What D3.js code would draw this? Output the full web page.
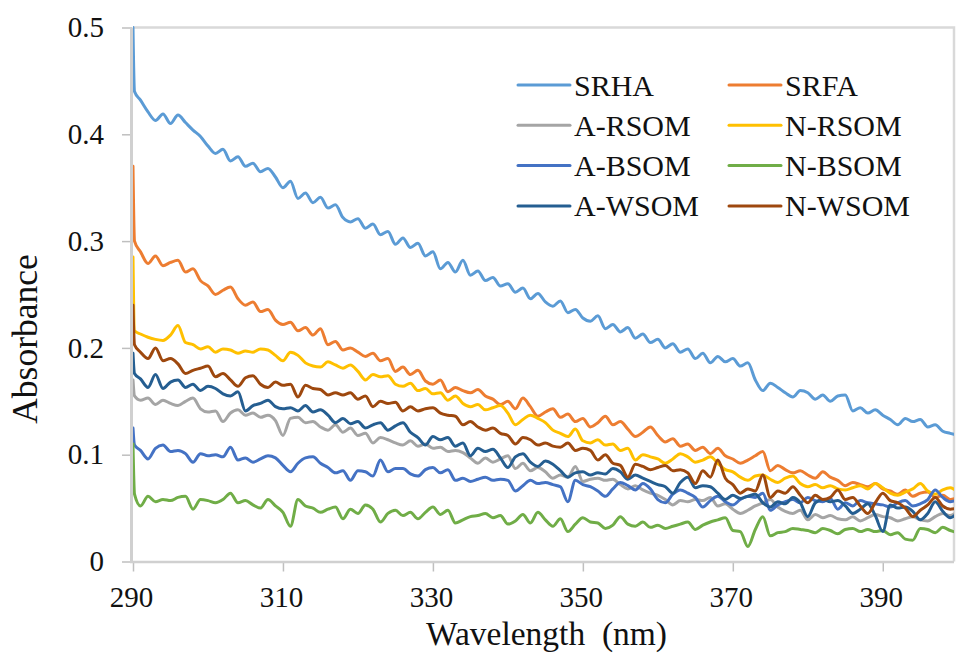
<!DOCTYPE html>
<html>
<head>
<meta charset="utf-8">
<script src="https://cdn.jsdelivr.net/npm/d3@7"></script>
</head>
<body style="margin:0">
<svg id="chart" width="958" height="667"></svg>
<script>
// ---- data (absorbance) ----
const wavelengths = [290, 290.2].concat(d3.range(291, 401)); // nm sampling grid
const seriesNames = ["SRHA", "SRFA", "A-RSOM", "N-RSOM", "A-BSOM", "N-BSOM", "A-WSOM", "N-WSOM"];
const seriesColors = ["#5B9BD5", "#ED7D31", "#A5A5A5", "#FFC000", "#4472C4", "#70AD47", "#255E91", "#9E480E"];
const xTicks = [290, 310, 330, 350, 370, 390];
const yTicks = [0, 0.1, 0.2, 0.3, 0.4, 0.5];

const SRHA = [0.500, 0.440,
  0.432, 0.421, 0.413, 0.419, 0.410, 0.418, 0.411, 0.404, 0.398, 0.389,
  0.382, 0.386, 0.375, 0.379, 0.370, 0.373, 0.365, 0.368, 0.360, 0.350,
  0.356, 0.340, 0.345, 0.336, 0.341, 0.331, 0.334, 0.322, 0.318, 0.321,
  0.312, 0.316, 0.306, 0.309, 0.297, 0.303, 0.294, 0.298, 0.286, 0.290,
  0.274, 0.280, 0.271, 0.282, 0.268, 0.272, 0.263, 0.266, 0.258, 0.260,
  0.252, 0.256, 0.246, 0.251, 0.243, 0.239, 0.244, 0.233, 0.236, 0.228,
  0.225, 0.230, 0.218, 0.222, 0.215, 0.219, 0.209, 0.213, 0.205, 0.208,
  0.200, 0.204, 0.196, 0.199, 0.190, 0.195, 0.186, 0.192, 0.187, 0.190,
  0.183, 0.186, 0.170, 0.160, 0.167, 0.163, 0.158, 0.154, 0.160, 0.158,
  0.152, 0.156, 0.150, 0.155, 0.156, 0.141, 0.144, 0.139, 0.142, 0.137,
  0.133, 0.128, 0.134, 0.131, 0.133, 0.126, 0.128, 0.122, 0.120, 0.118];

const SRFA = [0.370, 0.300,
  0.290, 0.279, 0.286, 0.277, 0.280, 0.282, 0.271, 0.274, 0.263, 0.258,
  0.250, 0.254, 0.257, 0.246, 0.240, 0.243, 0.234, 0.236, 0.226, 0.222,
  0.224, 0.216, 0.219, 0.212, 0.218, 0.203, 0.206, 0.198, 0.200, 0.196,
  0.192, 0.195, 0.188, 0.190, 0.178, 0.182, 0.175, 0.179, 0.169, 0.166,
  0.170, 0.159, 0.163, 0.160, 0.158, 0.161, 0.155, 0.152, 0.147, 0.150,
  0.143, 0.153, 0.145, 0.136, 0.140, 0.143, 0.135, 0.138, 0.131, 0.134,
  0.126, 0.130, 0.136, 0.128, 0.131, 0.124, 0.117, 0.121, 0.126, 0.118,
  0.112, 0.115, 0.108, 0.110, 0.104, 0.107, 0.101, 0.106, 0.099, 0.096,
  0.092, 0.095, 0.099, 0.103, 0.085, 0.090, 0.086, 0.083, 0.085, 0.081,
  0.078, 0.084, 0.079, 0.076, 0.071, 0.074, 0.072, 0.070, 0.073, 0.068,
  0.066, 0.063, 0.067, 0.061, 0.064, 0.065, 0.060, 0.062, 0.058, 0.060];

const A_RSOM = [0.170, 0.155,
  0.151, 0.153, 0.147, 0.151, 0.148, 0.146, 0.150, 0.153, 0.143, 0.140,
  0.141, 0.131, 0.139, 0.142, 0.137, 0.139, 0.135, 0.137, 0.132, 0.118,
  0.134, 0.135, 0.130, 0.131, 0.126, 0.123, 0.128, 0.121, 0.125, 0.118,
  0.120, 0.111, 0.116, 0.114, 0.111, 0.109, 0.113, 0.108, 0.110, 0.106,
  0.107, 0.103, 0.104, 0.102, 0.097, 0.092, 0.097, 0.093, 0.096, 0.099,
  0.087, 0.092, 0.085, 0.088, 0.084, 0.078, 0.081, 0.079, 0.089, 0.075,
  0.077, 0.078, 0.076, 0.077, 0.072, 0.068, 0.071, 0.067, 0.064, 0.062,
  0.058, 0.053, 0.057, 0.056, 0.058, 0.057, 0.060, 0.052, 0.054, 0.049,
  0.045, 0.048, 0.052, 0.055, 0.058, 0.051, 0.047, 0.045, 0.048, 0.039,
  0.044, 0.041, 0.043, 0.040, 0.039, 0.042, 0.038, 0.041, 0.044, 0.042,
  0.041, 0.038, 0.040, 0.042, 0.039, 0.038, 0.042, 0.045, 0.043, 0.047];

const N_RSOM = [0.285, 0.216,
  0.213, 0.210, 0.208, 0.207, 0.212, 0.221, 0.205, 0.203, 0.199, 0.201,
  0.196, 0.199, 0.198, 0.195, 0.197, 0.196, 0.199, 0.198, 0.193, 0.188,
  0.196, 0.193, 0.186, 0.183, 0.182, 0.187, 0.184, 0.181, 0.184, 0.178,
  0.170, 0.175, 0.173, 0.174, 0.166, 0.164, 0.167, 0.160, 0.162, 0.157,
  0.158, 0.151, 0.155, 0.148, 0.145, 0.147, 0.142, 0.144, 0.146, 0.139,
  0.128, 0.133, 0.137, 0.134, 0.130, 0.123, 0.120, 0.117, 0.124, 0.113,
  0.111, 0.114, 0.109, 0.110, 0.104, 0.106, 0.095, 0.100, 0.098, 0.096,
  0.092, 0.096, 0.101, 0.098, 0.093, 0.095, 0.098, 0.092, 0.086, 0.084,
  0.079, 0.076, 0.080, 0.081, 0.077, 0.074, 0.078, 0.080, 0.073, 0.070,
  0.072, 0.069, 0.071, 0.068, 0.067, 0.069, 0.071, 0.068, 0.073, 0.069,
  0.064, 0.062, 0.065, 0.068, 0.073, 0.066, 0.063, 0.067, 0.069, 0.065];

const A_BSOM = [0.125, 0.109,
  0.104, 0.096, 0.106, 0.109, 0.103, 0.104, 0.101, 0.093, 0.101, 0.099,
  0.100, 0.098, 0.107, 0.095, 0.097, 0.093, 0.096, 0.099, 0.097, 0.090,
  0.084, 0.092, 0.097, 0.098, 0.092, 0.088, 0.083, 0.085, 0.076, 0.085,
  0.084, 0.080, 0.095, 0.084, 0.087, 0.087, 0.082, 0.080, 0.086, 0.088,
  0.083, 0.086, 0.076, 0.078, 0.075, 0.077, 0.079, 0.076, 0.077, 0.076,
  0.066, 0.071, 0.076, 0.073, 0.074, 0.072, 0.070, 0.056, 0.076, 0.072,
  0.070, 0.066, 0.061, 0.068, 0.074, 0.071, 0.067, 0.073, 0.068, 0.058,
  0.055, 0.063, 0.067, 0.064, 0.060, 0.051, 0.057, 0.061, 0.056, 0.053,
  0.058, 0.061, 0.060, 0.064, 0.048, 0.053, 0.056, 0.058, 0.055, 0.060,
  0.057, 0.056, 0.059, 0.049, 0.055, 0.052, 0.057, 0.055, 0.054, 0.053,
  0.051, 0.055, 0.057, 0.052, 0.054, 0.058, 0.067, 0.060, 0.056, 0.058];

const N_BSOM = [0.110, 0.063,
  0.052, 0.061, 0.056, 0.058, 0.057, 0.060, 0.061, 0.049, 0.058, 0.057,
  0.055, 0.058, 0.064, 0.055, 0.057, 0.053, 0.050, 0.058, 0.052, 0.046,
  0.033, 0.058, 0.052, 0.050, 0.046, 0.049, 0.051, 0.040, 0.049, 0.045,
  0.053, 0.049, 0.037, 0.045, 0.048, 0.043, 0.046, 0.040, 0.046, 0.051,
  0.044, 0.048, 0.036, 0.039, 0.042, 0.043, 0.045, 0.041, 0.043, 0.035,
  0.038, 0.044, 0.036, 0.046, 0.039, 0.033, 0.040, 0.028, 0.035, 0.041,
  0.037, 0.036, 0.031, 0.034, 0.042, 0.035, 0.033, 0.037, 0.032, 0.034,
  0.031, 0.033, 0.035, 0.037, 0.030, 0.034, 0.037, 0.039, 0.041, 0.029,
  0.028, 0.014, 0.030, 0.042, 0.024, 0.027, 0.028, 0.031, 0.030, 0.029,
  0.027, 0.031, 0.029, 0.026, 0.030, 0.031, 0.028, 0.030, 0.028, 0.029,
  0.025, 0.027, 0.021, 0.020, 0.031, 0.030, 0.027, 0.032, 0.029, 0.027];

const A_WSOM = [0.195, 0.176,
  0.171, 0.163, 0.175, 0.162, 0.168, 0.170, 0.163, 0.166, 0.160, 0.164,
  0.162, 0.157, 0.155, 0.159, 0.141, 0.146, 0.148, 0.151, 0.145, 0.143,
  0.144, 0.141, 0.146, 0.140, 0.142, 0.137, 0.130, 0.134, 0.129, 0.131,
  0.125, 0.128, 0.130, 0.123, 0.127, 0.130, 0.121, 0.116, 0.109, 0.117,
  0.114, 0.116, 0.108, 0.111, 0.099, 0.106, 0.103, 0.105, 0.097, 0.088,
  0.098, 0.101, 0.093, 0.089, 0.094, 0.091, 0.085, 0.079, 0.083, 0.084,
  0.081, 0.083, 0.082, 0.087, 0.084, 0.077, 0.081, 0.078, 0.075, 0.072,
  0.070, 0.064, 0.074, 0.079, 0.069, 0.071, 0.070, 0.064, 0.058, 0.062,
  0.059, 0.061, 0.063, 0.055, 0.051, 0.056, 0.054, 0.060, 0.055, 0.042,
  0.055, 0.058, 0.056, 0.057, 0.052, 0.045, 0.049, 0.054, 0.043, 0.028,
  0.053, 0.050, 0.051, 0.047, 0.039, 0.045, 0.056, 0.047, 0.041, 0.046];

const N_WSOM = [0.240, 0.203,
  0.196, 0.190, 0.200, 0.188, 0.190, 0.185, 0.176, 0.179, 0.181, 0.183,
  0.173, 0.176, 0.170, 0.164, 0.172, 0.174, 0.166, 0.163, 0.168, 0.165,
  0.166, 0.154, 0.165, 0.162, 0.161, 0.156, 0.158, 0.156, 0.158, 0.152,
  0.155, 0.145, 0.150, 0.148, 0.149, 0.141, 0.145, 0.141, 0.143, 0.144,
  0.139, 0.137, 0.136, 0.128, 0.131, 0.126, 0.123, 0.125, 0.120, 0.118,
  0.110, 0.116, 0.114, 0.109, 0.111, 0.108, 0.107, 0.111, 0.104, 0.106,
  0.104, 0.095, 0.100, 0.092, 0.090, 0.079, 0.091, 0.089, 0.086, 0.088,
  0.090, 0.085, 0.086, 0.083, 0.073, 0.085, 0.079, 0.095, 0.078, 0.072,
  0.064, 0.068, 0.066, 0.081, 0.060, 0.066, 0.064, 0.070, 0.062, 0.055,
  0.062, 0.058, 0.060, 0.067, 0.058, 0.060, 0.052, 0.045, 0.055, 0.064,
  0.057, 0.055, 0.050, 0.042, 0.048, 0.053, 0.060, 0.052, 0.049, 0.050];

const seriesValues = [SRHA, SRFA, A_RSOM, N_RSOM, A_BSOM, N_BSOM, A_WSOM, N_WSOM];

// ---- layout ----
const FONT = "Liberation Serif";
const INK = "#111";
const svg = d3.select("#chart").style("display", "block");
const plot = { left: 133, right: 954, top: 27.5, bottom: 561.5 };
const x = d3.scaleLinear().domain([290, 399.5]).range([plot.left, plot.right]);
const y = d3.scaleLinear().domain([0, 0.5]).range([plot.bottom, plot.top]);

svg.append("defs").append("clipPath").attr("id", "clip")
  .append("rect")
  .attr("x", plot.left).attr("y", plot.top - 2)
  .attr("width", plot.right - plot.left).attr("height", plot.bottom - plot.top + 2);

// plot border (top/right)
svg.append("path")
  .attr("d", `M${plot.left},${plot.top}H${plot.right}V${plot.bottom}`)
  .attr("fill", "none").attr("stroke", "#D9D9D9").attr("stroke-width", 2.5);

// axes
const yAxis = d3.axisLeft(y).tickValues(yTicks).tickSize(10).tickPadding(18)
  .tickFormat(d => d === 0 ? "0" : d.toFixed(1));
const gy = svg.append("g").attr("transform", `translate(${plot.left - 1},0)`).call(yAxis);
gy.attr("font-family", FONT).attr("font-size", 29);
gy.select(".domain").remove();
gy.selectAll(".tick line").attr("stroke", "#BFBFBF").attr("stroke-width", 1.5);
gy.selectAll(".tick text").attr("fill", INK)
  .attr("font-family", FONT).attr("font-size", 29)
  .style("font-family", FONT).style("font-size", "29px");

const xAxis = d3.axisBottom(x).tickValues(xTicks).tickSize(9).tickPadding(15);
const gx = svg.append("g").attr("transform", `translate(0,${plot.bottom + 1})`).call(xAxis);
gx.attr("font-family", FONT).attr("font-size", 29);
gx.select(".domain").remove();
gx.selectAll(".tick line").attr("stroke", "#BFBFBF").attr("stroke-width", 1.5);
gx.selectAll(".tick text").attr("fill", INK).attr("dx", -2)
  .attr("font-family", FONT).attr("font-size", 29)
  .style("font-family", FONT).style("font-size", "29px");

// axis lines
svg.append("line").attr("x1", plot.left - 1.5).attr("x2", plot.left - 1.5)
  .attr("y1", plot.top).attr("y2", plot.bottom + 1.5)
  .attr("stroke", "#D0D0D0").attr("stroke-width", 3);
svg.append("line").attr("x1", plot.left - 3).attr("x2", plot.right)
  .attr("y1", plot.bottom + 0.5).attr("y2", plot.bottom + 0.5)
  .attr("stroke", "#D0D0D0").attr("stroke-width", 2.5);

// lines
const line = d3.line()
  .x((d, i) => x(wavelengths[i]))
  .y(d => y(d))
  .curve(d3.curveMonotoneX);

const gl = svg.append("g").attr("clip-path", "url(#clip)");
seriesValues.forEach((vals, k) => {
  gl.append("path")
    .datum(vals)
    .attr("d", line)
    .attr("fill", "none")
    .attr("stroke", seriesColors[k])
    .attr("stroke-width", 3)
    .attr("stroke-linejoin", "round")
    .attr("stroke-linecap", "round");
});

// axis titles
svg.append("text")
  .attr("transform", "translate(37,339) rotate(-90)")
  .attr("text-anchor", "middle")
  .attr("fill", INK)
  .attr("font-family", FONT).attr("font-size", 35.5)
  .style("font-family", FONT).style("font-size", "35.5px")
  .text("Absorbance");

svg.append("text")
  .attr("x", 546.5).attr("y", 645)
  .attr("text-anchor", "middle")
  .attr("fill", INK)
  .attr("font-family", FONT).attr("font-size", 33.5)
  .style("font-family", FONT).style("font-size", "33.5px")
  .attr("xml:space", "preserve")
  .text("Wavelength\u00A0 (nm)");

// legend
const legend = svg.append("g");
seriesNames.forEach((name, k) => {
  const col = k % 2, row = Math.floor(k / 2);
  const lx = col === 0 ? 518 : 729;
  const ly = 85 + row * 40.3;
  legend.append("line")
    .attr("x1", lx).attr("x2", lx + 52)
    .attr("y1", ly).attr("y2", ly)
    .attr("stroke", seriesColors[k]).attr("stroke-width", 3)
    .attr("stroke-linecap", "round");
  legend.append("text")
    .attr("x", lx + 56).attr("y", ly)
    .attr("dy", "0.35em")
    .attr("fill", INK)
    .attr("font-family", FONT).attr("font-size", 30)
    .style("font-family", FONT).style("font-size", "30px")
    .text(name);
});
</script>
</body>
</html>
